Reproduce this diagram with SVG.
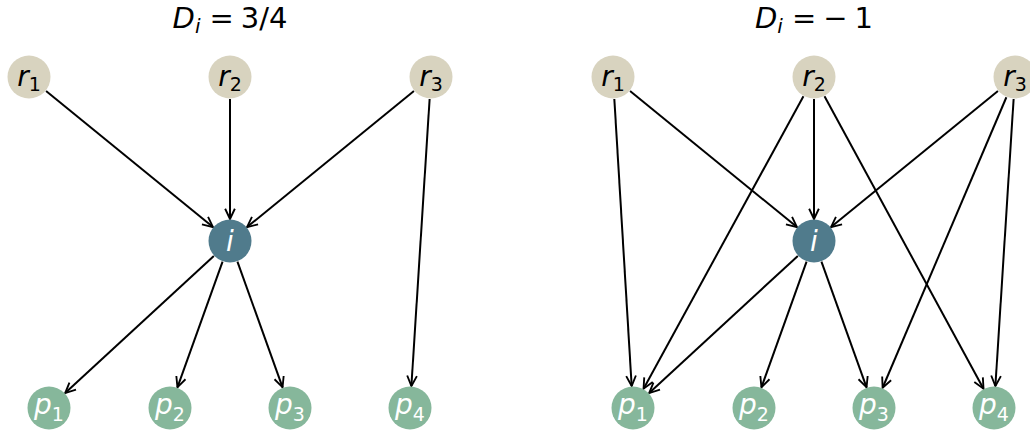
<svg xmlns="http://www.w3.org/2000/svg" width="1030" height="433" viewBox="0 0 1030 433">
<defs>
<marker id="ah" markerUnits="userSpaceOnUse" markerWidth="14" markerHeight="14" viewBox="-13 -7 15 14" refX="0" refY="0" orient="auto" overflow="visible">
<path d="M-11,-5.2 L0,0 L-11,5.2" fill="none" stroke="#000" stroke-width="2"/>
</marker>
</defs>
<style>
.t{font-family:"DejaVu Sans",sans-serif;}
.title{font-size:29px;fill:#000;}
.lab{font-size:28px;}
.sub{font-size:19px;font-style:normal;}
.it{font-style:italic;}
.r{fill:#d8d3bf;}
.i{fill:#507b8c;}
.p{fill:#86b79b;}
.dk{fill:#000;}
.wh{fill:#fff;}
#edges line{stroke:#000;stroke-width:2;marker-end:url(#ah);}
</style>
<rect width="1030" height="433" fill="#fff"/>
<text class="t title" x="230" y="28" text-anchor="middle"><tspan class="it">D</tspan><tspan class="it" font-size="20" dy="5">i</tspan><tspan dy="-5" dx="9">=</tspan><tspan dx="7">3/4</tspan></text>
<text class="t title" x="814" y="28" text-anchor="middle"><tspan class="it">D</tspan><tspan class="it" font-size="20" dy="5">i</tspan><tspan dy="-5" dx="9">=</tspan><tspan dx="7">−</tspan><tspan dx="7">1</tspan></text>
<g id="edges">
<line x1="46.05" y1="90.91" x2="212.95" y2="227.09"/>
<line x1="230" y1="99" x2="230" y2="219"/>
<line x1="413.95" y1="90.91" x2="247.05" y2="227.09"/>
<line x1="429.61" y1="98.96" x2="411.39" y2="386.04"/>
<line x1="213.83" y1="255.92" x2="65.17" y2="393.08"/>
<line x1="222.56" y1="261.70" x2="177.44" y2="387.30"/>
<line x1="237.44" y1="261.70" x2="282.56" y2="387.30"/>
<line x1="614.33" y1="98.96" x2="631.67" y2="386.04"/>
<line x1="630.05" y1="90.91" x2="796.95" y2="227.09"/>
<line x1="803.44" y1="96.30" x2="643.56" y2="388.70"/>
<line x1="814" y1="99" x2="814" y2="219"/>
<line x1="824.51" y1="96.33" x2="983.49" y2="388.67"/>
<line x1="997.95" y1="90.91" x2="831.05" y2="227.09"/>
<line x1="1006.38" y1="97.24" x2="882.62" y2="387.76"/>
<line x1="1013.61" y1="98.96" x2="995.39" y2="386.04"/>
<line x1="797.83" y1="255.92" x2="649.17" y2="393.08"/>
<line x1="806.56" y1="261.70" x2="761.44" y2="387.30"/>
<line x1="821.44" y1="261.70" x2="866.56" y2="387.30"/>
</g>
<g id="L_r1"><circle class="r" cx="29" cy="77" r="21.5"/><text class="t lab dk" x="29" y="86" text-anchor="middle"><tspan class="it">r</tspan><tspan class="sub" dy="5">1</tspan></text></g>
<g id="L_r2"><circle class="r" cx="230" cy="77" r="21.5"/><text class="t lab dk" x="230" y="86" text-anchor="middle"><tspan class="it">r</tspan><tspan class="sub" dy="5">2</tspan></text></g>
<g id="L_r3"><circle class="r" cx="431" cy="77" r="21.5"/><text class="t lab dk" x="431" y="86" text-anchor="middle"><tspan class="it">r</tspan><tspan class="sub" dy="5">3</tspan></text></g>
<g id="L_i"><circle class="i" cx="230" cy="241" r="21.5"/><text class="t lab wh it" x="230" y="251" text-anchor="middle">i</text></g>
<g id="L_p1"><circle class="p" cx="49" cy="408" r="21.5"/><text class="t lab wh" x="49" y="414" text-anchor="middle"><tspan class="it">p</tspan><tspan class="sub" dy="7">1</tspan></text></g>
<g id="L_p2"><circle class="p" cx="170" cy="408" r="21.5"/><text class="t lab wh" x="170" y="414" text-anchor="middle"><tspan class="it">p</tspan><tspan class="sub" dy="7">2</tspan></text></g>
<g id="L_p3"><circle class="p" cx="290" cy="408" r="21.5"/><text class="t lab wh" x="290" y="414" text-anchor="middle"><tspan class="it">p</tspan><tspan class="sub" dy="7">3</tspan></text></g>
<g id="L_p4"><circle class="p" cx="410" cy="408" r="21.5"/><text class="t lab wh" x="410" y="414" text-anchor="middle"><tspan class="it">p</tspan><tspan class="sub" dy="7">4</tspan></text></g>
<g id="R_r1"><circle class="r" cx="613" cy="77" r="21.5"/><text class="t lab dk" x="613" y="86" text-anchor="middle"><tspan class="it">r</tspan><tspan class="sub" dy="5">1</tspan></text></g>
<g id="R_r2"><circle class="r" cx="814" cy="77" r="21.5"/><text class="t lab dk" x="814" y="86" text-anchor="middle"><tspan class="it">r</tspan><tspan class="sub" dy="5">2</tspan></text></g>
<g id="R_r3"><circle class="r" cx="1015" cy="77" r="21.5"/><text class="t lab dk" x="1015" y="86" text-anchor="middle"><tspan class="it">r</tspan><tspan class="sub" dy="5">3</tspan></text></g>
<g id="R_i"><circle class="i" cx="814" cy="241" r="21.5"/><text class="t lab wh it" x="814" y="251" text-anchor="middle">i</text></g>
<g id="R_p1"><circle class="p" cx="633" cy="408" r="21.5"/><text class="t lab wh" x="633" y="414" text-anchor="middle"><tspan class="it">p</tspan><tspan class="sub" dy="7">1</tspan></text></g>
<g id="R_p2"><circle class="p" cx="754" cy="408" r="21.5"/><text class="t lab wh" x="754" y="414" text-anchor="middle"><tspan class="it">p</tspan><tspan class="sub" dy="7">2</tspan></text></g>
<g id="R_p3"><circle class="p" cx="874" cy="408" r="21.5"/><text class="t lab wh" x="874" y="414" text-anchor="middle"><tspan class="it">p</tspan><tspan class="sub" dy="7">3</tspan></text></g>
<g id="R_p4"><circle class="p" cx="994" cy="408" r="21.5"/><text class="t lab wh" x="994" y="414" text-anchor="middle"><tspan class="it">p</tspan><tspan class="sub" dy="7">4</tspan></text></g>
</svg>
